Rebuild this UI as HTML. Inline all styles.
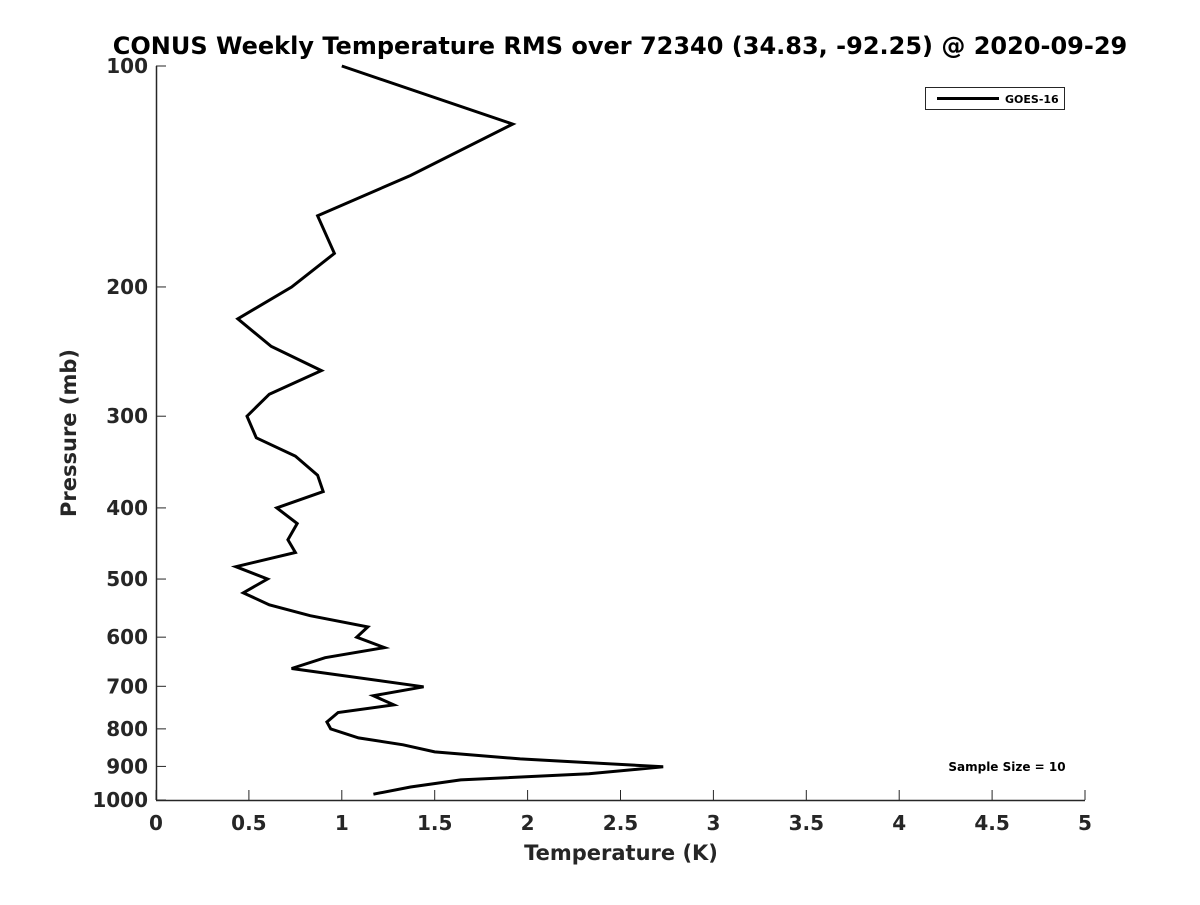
<!DOCTYPE html>
<html><head><meta charset="utf-8"><style>
body{margin:0;background:#fff}
text{font-family:"DejaVu Sans","Liberation Sans",sans-serif;font-weight:bold}
</style></head><body>
<svg id="chart" width="1200" height="900" xmlns="http://www.w3.org/2000/svg">
<rect width="1200" height="900" fill="#fff"/>
<text x="620" y="54" text-anchor="middle" font-size="24" fill="#000">CONUS Weekly Temperature RMS over 72340 (34.83, -92.25) @ 2020-09-29</text>
<g id="axes"></g>
<g id="series"></g>
<g>
<rect x="925.5" y="87.5" width="139" height="22" fill="#fff" stroke="#262626"/>
<line x1="937" y1="98.5" x2="999" y2="98.5" stroke="#000" stroke-width="3"/>
<text x="1005" y="103" font-size="11" fill="#000">GOES-16</text>
</g>
<text x="1007" y="771" text-anchor="middle" font-size="12" fill="#000">Sample Size = 10</text>
<text x="621" y="860" text-anchor="middle" font-size="21" fill="#262626">Temperature (K)</text>
<text transform="translate(76,433) rotate(-90)" text-anchor="middle" font-size="21" fill="#262626">Pressure (mb)</text>
</svg>
<script>
const temps=[1.0,1.92,1.37,0.87,0.96,0.73,0.44,0.62,0.89,0.61,0.49,0.54,0.75,0.87,0.90,0.65,0.76,0.71,0.75,0.43,0.60,0.47,0.61,0.83,1.14,1.08,1.23,0.91,0.73,1.44,1.17,1.28,0.98,0.92,0.94,1.09,1.33,1.50,1.96,2.73,2.33,1.64,1.37,1.17];
const pressures=[100,120,141,160,180,200,221,241,260,280,300,321,340,361,380,400,420,442,460,481,500,522,542,561,581,600,620,640,662,701,721,742,760,783,800,823,841,860,879,901,921,939,960,982];
const xTicks=[0,0.5,1,1.5,2,2.5,3,3.5,4,4.5,5];
const yTicks=[100,200,300,400,500,600,700,800,900,1000];
const X0=156,X1=1085,Y0=66,Y1=800;
const xs=v=>X0+(v-0)/(5-0)*(X1-X0);
const ys=p=>Y0+(Math.log10(p)-2)*(Y1-Y0);
const NS="http://www.w3.org/2000/svg";
const ax=document.getElementById('axes');
function mk(t,a){const e=document.createElementNS(NS,t);for(const k in a)e.setAttribute(k,a[k]);return e;}
let l=mk('line',{x1:X0,y1:Y1+0.5,x2:X1,y2:Y1+0.5,stroke:'#262626','stroke-width':1.5});


ax.appendChild(l);
l=mk('line',{x1:X0+0.5,y1:Y0,x2:X0+0.5,y2:Y1,stroke:'#262626','stroke-width':1.5});


ax.appendChild(l);
xTicks.forEach(v=>{
 const x=xs(v);
 const t=mk('line',{x1:x,y1:Y1,x2:x,y2:Y1-10,stroke:'#262626','stroke-width':1});
 
 
 ax.appendChild(t);
 const tx=mk('text',{x:x,y:Y1+30,'text-anchor':'middle','font-size':20,fill:'#262626'});
 tx.textContent=String(v);
 
 
 ax.appendChild(tx);
});
yTicks.forEach(p=>{
 const y=ys(p);
 const t=mk('line',{x1:X0,y1:y,x2:X0+10,y2:y,stroke:'#262626','stroke-width':1});
 
 
 ax.appendChild(t);
 const tx=mk('text',{x:X0-8,y:y+7,'text-anchor':'end','font-size':20,fill:'#262626'});
 tx.textContent=String(p);
 
 
 ax.appendChild(tx);
});
const pts=temps.map((t,i)=>xs(t).toFixed(1)+','+ys(pressures[i]).toFixed(1)).join(' ');
const pl=mk('polyline',{points:pts,fill:'none',stroke:'#000','stroke-width':3,'stroke-linejoin':'miter'});


document.getElementById('series').appendChild(pl);
</script>
</body></html>
